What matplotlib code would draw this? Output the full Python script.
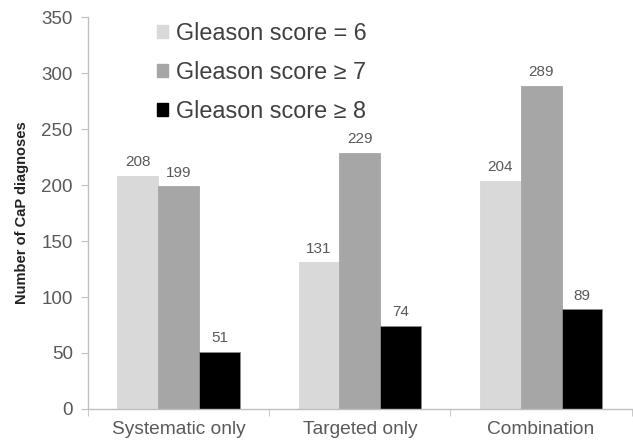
import matplotlib
matplotlib.use("Agg")
import matplotlib.pyplot as plt
import numpy as np
from matplotlib.patches import Patch

plt.rcParams['font.family'] = ['Liberation Sans', 'DejaVu Sans']

categories = ["Systematic only", "Targeted only", "Combination"]
series_names = ["Gleason score = 6", "Gleason score \u2265 7", "Gleason score \u2265 8"]
gleason_6 = [208, 131, 204]
gleason_7 = [199, 229, 289]
gleason_8 = [51, 74, 89]
y_ticks = [0, 50, 100, 150, 200, 250, 300, 350]

colors = ["#d9d9d9", "#a6a6a6", "#000000"]
text_color = "#595959"
axis_color = "#bfbfbf"

fig = plt.figure(figsize=(6.33, 4.44), dpi=100)
ax = fig.add_axes([0.139, 0.079, 0.859, 0.882])

x = np.arange(len(categories))
width = 0.225
series = [gleason_6, gleason_7, gleason_8]
for i, (vals, c) in enumerate(zip(series, colors)):
    pos = x + (i - 1) * width
    ax.bar(pos, vals, width=width, color=c,
           edgecolor="#8c8c8c" if i == 2 else c, linewidth=0.6)
    for xp, v in zip(pos, vals):
        ax.text(xp, v + 6, str(v), ha="center", va="bottom",
                fontsize=11, color=text_color)

ax.set_xlim(-0.5, 2.5)
ax.set_ylim(0, 350)
ax.set_yticks(y_ticks)
ax.set_yticklabels([str(t) for t in y_ticks], fontsize=13.5, color=text_color)
ax.set_xticks(x)
ax.set_xticklabels(categories, fontsize=13.8, color=text_color)
ax.tick_params(axis="x", length=0, pad=9)
ax.set_xticks([-0.5, 0.5, 1.5, 2.5], minor=True)
ax.tick_params(axis="x", which="minor", length=5, color=axis_color, direction="out")
ax.tick_params(axis="y", length=5, color=axis_color, direction="out", pad=6)

for s in ["top", "right"]:
    ax.spines[s].set_visible(False)
for s in ["left", "bottom"]:
    ax.spines[s].set_color(axis_color)
    ax.spines[s].set_linewidth(1.0)

ax.set_ylabel("Number of CaP diagnoses", fontsize=10.5, fontweight="bold",
              color="#222222", labelpad=9)

handles = [Patch(facecolor=c, edgecolor=c) for c in colors]
ax.legend(handles, series_names, loc="upper left",
          bbox_to_anchor=(0.127, 0.988), frameon=False, fontsize=16.8,
          borderpad=0, borderaxespad=0, handlelength=0.45, handleheight=0.45,
          handletextpad=0.35, labelspacing=0.68, labelcolor="#404040")

fig.savefig("out.png", dpi=100)
